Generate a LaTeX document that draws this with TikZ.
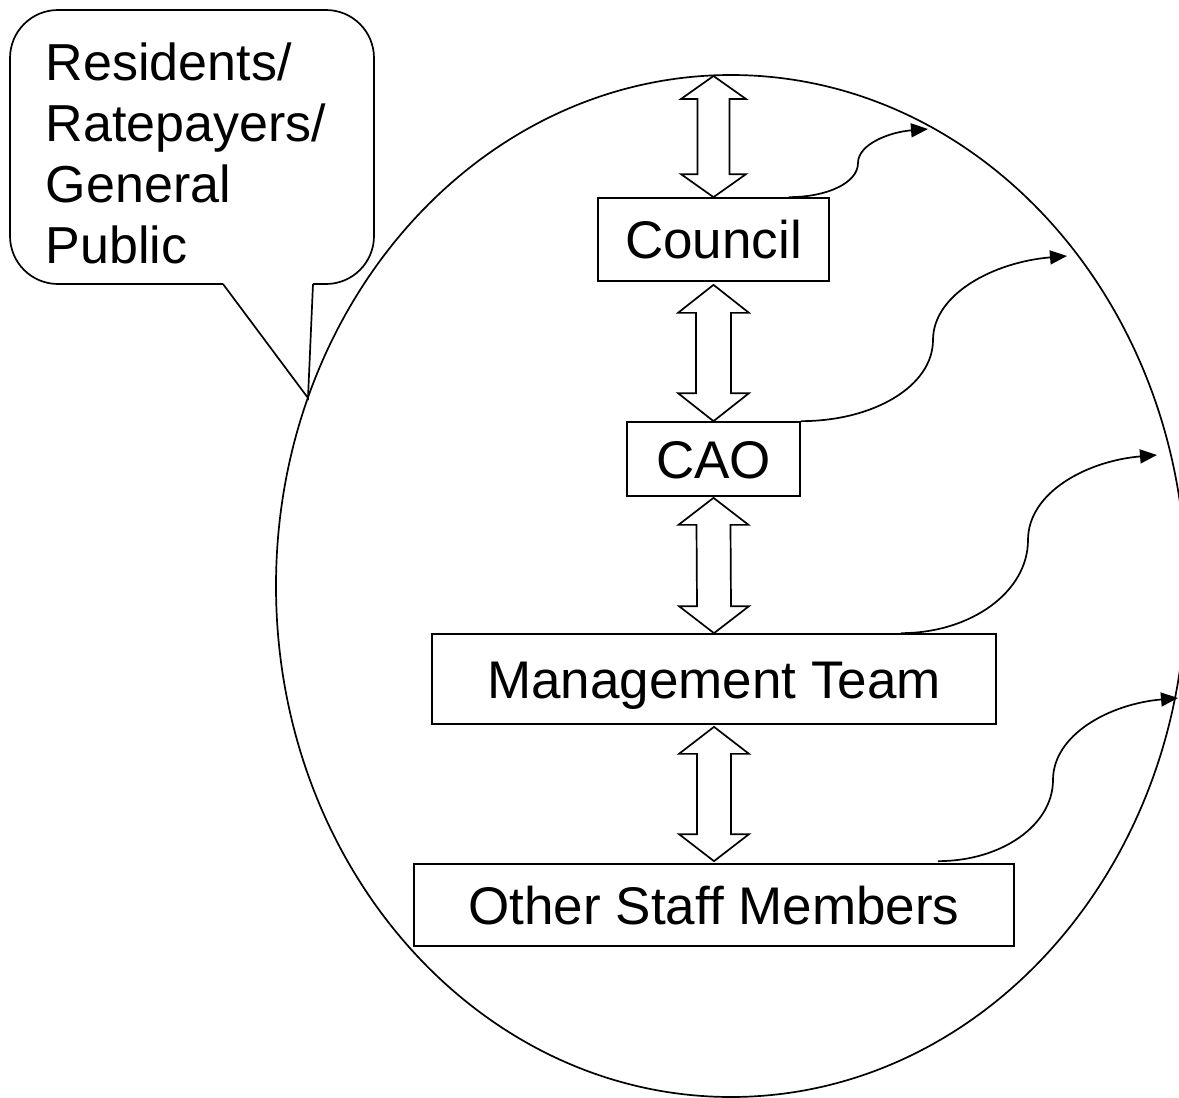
\documentclass[tikz,border=0pt]{standalone}
\usepackage{fontspec}
\setmainfont{Liberation Sans}
\usetikzlibrary{calc,arrows.meta}

% hollow double-headed block arrow between two points
% #1 upper tip, #2 lower tip, #3 head half width, #4 shaft half width, #5 head length
\newcommand\blockarrow[5]{%
  \draw[blockarrowstyle] (#1) -- ++(#3,#5) -- ++({#4-#3},0)
    -- ($(#2)+(#4,-#5)$) -- ++({#3-#4},0) -- (#2)
    -- ++(-#3,-#5) -- ++({#3-#4},0)
    -- ($(#1)+(-#4,#5)$) -- ++({#4-#3},0) -- cycle;}

\begin{document}
\begin{tikzpicture}[x=1pt,y=-1pt,line width=1.7pt,
  every node/.style={font=\fontsize{52}{61}\selectfont},
  unitbox/.style={draw,inner sep=0pt,font=\fontsize{53}{62}\selectfont,
    text height=38pt,text depth=0pt},
  blockarrowstyle/.style={draw,fill=white,line join=miter},
  flow/.style={draw,-{Triangle[length=17pt,width=14pt]}}]

\fill[white] (0,0) rectangle (1179,1098);
\useasboundingbox (0,0) rectangle (1179,1098);

% the organisation
\draw (731,586) ellipse [x radius=455pt, y radius=511pt];

% speech bubble for the public
\draw[rounded corners=48pt] (313,284) -- (374,284) -- (374,10) -- (10,10)
  -- (10,284) -- (223,284);
\draw (223,284) -- (308,398) -- (313,284);
\node[anchor=north west,inner sep=0pt,align=left] (public) at (45,42)
  {Residents/\\Ratepayers/\\General\\Public};

% hierarchy
\node[unitbox,minimum width=231pt,minimum height=83pt] (council) at (713.5,239.5) {Council};
\node[unitbox,minimum width=173pt,minimum height=74pt] (cao) at (713.5,459) {CAO};
\node[unitbox,minimum width=564pt,minimum height=90pt] (mteam) at (714,679) {Management Team};
\node[unitbox,minimum width=600pt,minimum height=82pt] (staff) at (714,905) {Other Staff Members};

% two-way links
\coordinate (rim) at (713.5,76);
\coordinate (a1t) at ($(council.south)+(0,3)$);
\coordinate (a2t) at ($(cao.south)+(0,1)$);
\coordinate (a3t) at ($(mteam.south)+(0,2)$);
\coordinate (a3b) at ($(staff.north)+(0,-2)$);
\blockarrow{rim}{council.north}{32.5}{16}{23}
\blockarrow{a1t}{cao.north}{35.5}{17.5}{28}
\blockarrow{a2t}{mteam.north}{35}{17}{27}
\blockarrow{a3t}{a3b}{35}{17}{27}

% outward flows to the boundary
\coordinate (s1) at ($(council.north east)+(-41,0)$);
\coordinate (m1) at (858,163);
\coordinate (t1) at (928,129);
\coordinate (s2) at (cao.north east);
\coordinate (m2) at (933,340);
\coordinate (t2) at (1067,256);
\coordinate (s3) at ($(mteam.north east)+(-96,0)$);
\coordinate (m3) at (1028,540);
\coordinate (t3) at (1157,455);
\coordinate (s4) at ($(staff.north east)+(-77,-2)$);
\coordinate (m4) at (1053,780);
\coordinate (t4) at (1178,698);

\draw[flow] (s1) .. controls +(38,0) and +(0,20) .. (m1)
  .. controls +(0,-19) and +(-38,3) .. (t1);
\draw[flow] (s2) .. controls +(73,0) and +(0,46) .. (m2)
  .. controls +(0,-46) and +(-73,6) .. (t2);
\draw[flow] (s3) .. controls +(70,0) and +(0,52) .. (m3)
  .. controls +(0,-47) and +(-71,6) .. (t3);
\draw[flow] (s4) .. controls +(64,0) and +(0,45) .. (m4)
  .. controls +(0,-45) and +(-69,6) .. (t4);
\end{tikzpicture}
\end{document}
